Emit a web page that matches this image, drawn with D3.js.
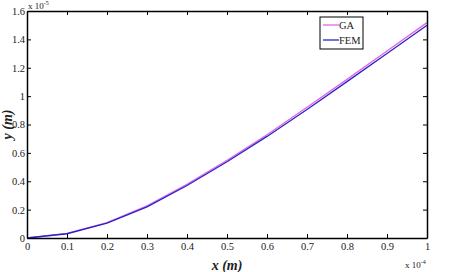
<!DOCTYPE html>
<html>
<head>
<meta charset="utf-8">
<script src="https://cdn.jsdelivr.net/npm/d3@7"></script>
<style>
  body { margin: 0; background: #fff; }
  svg { display: block; }
  svg text { font-family: "Liberation Serif", "Times New Roman", serif !important; }
</style>
</head>
<body>
<svg id="chart"></svg>
<script>
const xValues = [0, 0.1, 0.2, 0.3, 0.4, 0.5, 0.6, 0.7, 0.8, 0.9, 1.0];
const gaValues = [0, 0.032, 0.108, 0.226, 0.378, 0.548, 0.728, 0.922, 1.118, 1.318, 1.518];
const femValues = [0, 0.030, 0.105, 0.220, 0.370, 0.537, 0.716, 0.906, 1.102, 1.300, 1.500];
const xTicks = [0, 0.1, 0.2, 0.3, 0.4, 0.5, 0.6, 0.7, 0.8, 0.9, 1];
const yTicks = [0, 0.2, 0.4, 0.6, 0.8, 1, 1.2, 1.4, 1.6];
const seriesNames = ['GA', 'FEM'];
const seriesColors = ['#e066e6', '#2a22c8'];

const width = 459, height = 272;
const margin = { top: 11, right: 32, bottom: 34, left: 27 };

const svg = d3.select('#chart').attr('width', width).attr('height', height);

const x = d3.scaleLinear().domain([0, 1]).range([margin.left, width - margin.right]);
const y = d3.scaleLinear().domain([0, 1.6]).range([height - margin.bottom, margin.top]);

const fmt = d => String(+d.toFixed(1));

// Lines
const line = d3.line()
  .x((_, i) => x(xValues[i]))
  .y(d => y(d));

[gaValues, femValues].forEach((vals, k) => {
  svg.append('path')
    .datum(vals)
    .attr('fill', 'none')
    .attr('stroke', seriesColors[k])
    .attr('stroke-width', 1.3)
    .attr('d', line);
});

// Axes (ticks inward)
const axisStyle = g => {
  g.attr('font-family', null);
  g.selectAll('.domain').attr('stroke', '#000').attr('stroke-width', 1.5);
  g.selectAll('.tick line').attr('stroke', '#000');
  g.selectAll('text').attr('font-size', 10.5).attr('fill', '#222');
};

svg.append('g')
  .attr('transform', `translate(0,${y(0)})`)
  .call(d3.axisBottom(x).tickValues(xTicks).tickFormat(fmt).tickSizeInner(-4).tickSizeOuter(0).tickPadding(5))
  .call(axisStyle);

svg.append('g')
  .attr('transform', `translate(0,${y(1.6)})`)
  .call(d3.axisTop(x).tickValues(xTicks).tickFormat('').tickSizeInner(-4).tickSizeOuter(0))
  .call(axisStyle);

svg.append('g')
  .attr('transform', `translate(${x(0)},0)`)
  .call(d3.axisLeft(y).tickValues(yTicks).tickFormat(fmt).tickSizeInner(-4).tickSizeOuter(0).tickPadding(2))
  .call(axisStyle);

svg.append('g')
  .attr('transform', `translate(${x(1)},0)`)
  .call(d3.axisRight(y).tickValues(yTicks).tickFormat('').tickSizeInner(-4).tickSizeOuter(0))
  .call(axisStyle);

// Axis labels
svg.append('text')
  .attr('x', x(0.5))
  .attr('y', 270)
  .attr('text-anchor', 'middle')
  .attr('font-size', 14)
  .attr('font-weight', 'bold')
  .attr('font-style', 'italic')
  .attr('fill', '#222')
  .text('x (m)');

svg.append('text')
  .attr('transform', 'rotate(-90)')
  .attr('x', -y(0.8))
  .attr('y', 12)
  .attr('text-anchor', 'middle')
  .attr('font-size', 14)
  .attr('font-weight', 'bold')
  .attr('font-style', 'italic')
  .attr('fill', '#222')
  .text('y (m)');

// Exponent labels
const xExp = svg.append('text')
  .attr('x', x(1) - 22)
  .attr('y', 268)
  .attr('font-size', 9)
  .attr('fill', '#222');
xExp.append('tspan').text('x 10');
xExp.append('tspan').attr('font-size', 6).attr('dy', -4).text('-4');

const yExp = svg.append('text')
  .attr('x', x(0) + 1)
  .attr('y', 9)
  .attr('font-size', 9)
  .attr('fill', '#222');
yExp.append('tspan').text('x 10');
yExp.append('tspan').attr('font-size', 6).attr('dy', -4).text('-5');

// Legend
const legend = svg.append('g').attr('transform', 'translate(320,17)');
legend.append('rect')
  .attr('width', 43).attr('height', 32)
  .attr('fill', '#fff')
  .attr('stroke', '#000')
  .attr('stroke-width', 1);

seriesNames.forEach((name, i) => {
  const ly = 8 + i * 15;
  legend.append('line')
    .attr('x1', 3).attr('x2', 19)
    .attr('y1', ly).attr('y2', ly)
    .attr('stroke', seriesColors[i])
    .attr('stroke-width', 1.3);
  legend.append('text')
    .attr('x', 19).attr('y', ly + 3.5)
    .attr('font-size', 10.5)
    .attr('fill', '#222')
    .text(name);
});
</script>
</body>
</html>
